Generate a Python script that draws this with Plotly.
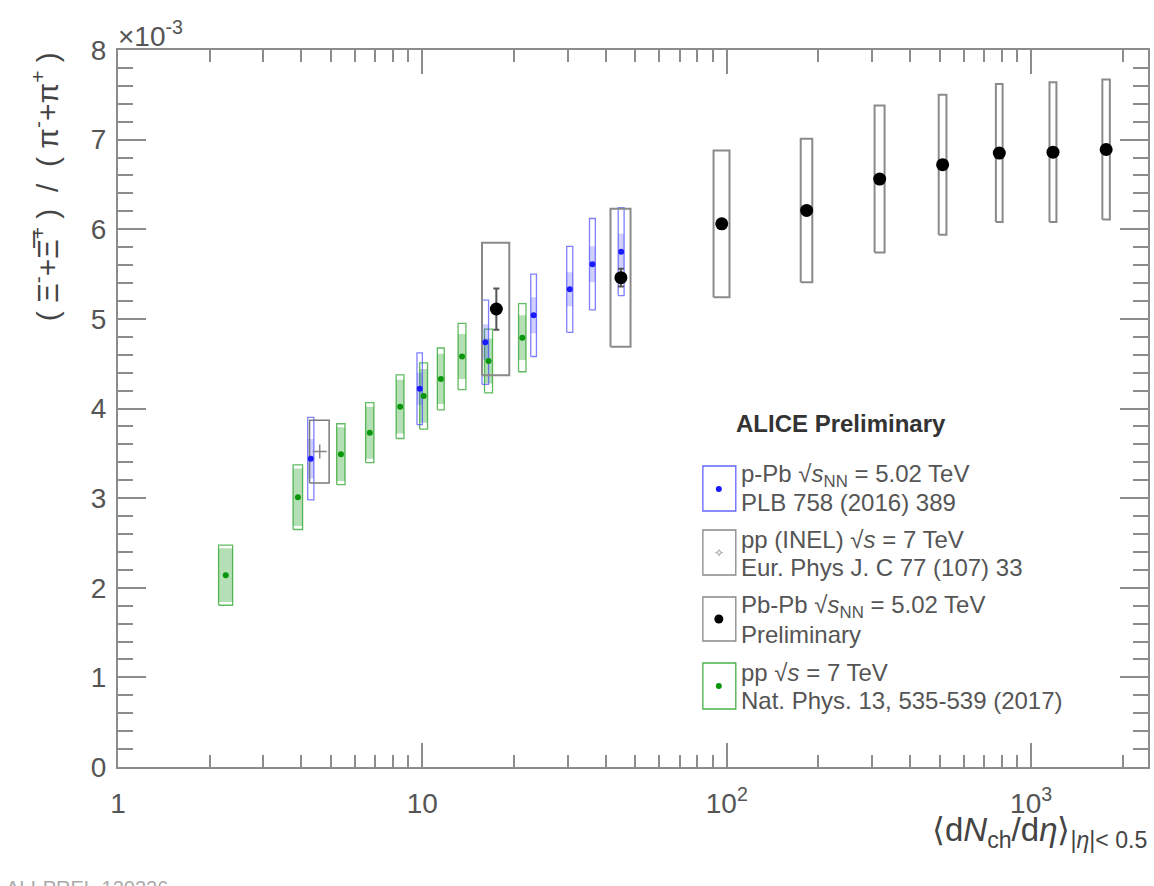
import plotly.graph_objects as go

# ---------------- data ----------------
# p-Pb, sqrt(s_NN) = 5.02 TeV  (PLB 758 (2016) 389)
ppb_dndeta = [4.3, 9.8, 16.1, 23.2, 30.5, 36.2, 45.0]
ppb_dndeta_err = [0.1, 0.2, 0.4, 0.5, 0.7, 0.8, 1.0]
ppb_ratio = [3.44, 4.22, 4.74, 5.04, 5.33, 5.61, 5.75]
ppb_sys = [0.46, 0.40, 0.47, 0.46, 0.48, 0.51, 0.49]
ppb_sys_unc = [0.22, 0.18, 0.20, 0.20, 0.19, 0.20, 0.20]

# pp (INEL), sqrt(s) = 7 TeV  (Eur. Phys. J. C 77 (107) 33)
ppinel_dndeta = [4.6]
ppinel_dndeta_err = [0.34]
ppinel_ratio = [3.52]
ppinel_sys = [0.35]

# Pb-Pb, sqrt(s_NN) = 5.02 TeV  (preliminary)
pbpb_dndeta = [17.5, 44.9, 96.3, 183, 318, 512, 786, 1180, 1764]
pbpb_dndeta_err = [1.8, 3.4, 5.8, 8, 12, 15, 20, 31, 50]
pbpb_ratio = [5.11, 5.46, 6.06, 6.21, 6.56, 6.72, 6.85, 6.86, 6.89]
pbpb_stat = [0.23, 0.10, 0.05, 0.04, 0.03, 0.03, 0.03, 0.03, 0.03]
pbpb_sys = [0.74, 0.77, 0.82, 0.80, 0.82, 0.78, 0.77, 0.78, 0.78]

# pp, sqrt(s) = 7 TeV multiplicity classes  (Nat. Phys. 13, 535-539 (2017))
pp_dndeta = [2.26, 3.90, 5.40, 6.72, 8.45, 10.1, 11.5, 13.5, 16.5, 21.3]
pp_dndeta_err = [0.12, 0.14, 0.17, 0.21, 0.25, 0.3, 0.3, 0.4, 0.5, 0.6]
pp_ratio = [2.14, 3.01, 3.49, 3.73, 4.02, 4.14, 4.33, 4.58, 4.53, 4.79]
pp_sys = [0.335, 0.36, 0.34, 0.335, 0.355, 0.37, 0.345, 0.37, 0.355, 0.38]
pp_sys_unc = [0.30, 0.32, 0.30, 0.29, 0.30, 0.30, 0.28, 0.25, 0.25, 0.25]

# ---------------- styling ----------------
FONT = "Liberation Sans, Arial, Helvetica, sans-serif"
AXIS_COLOR = "#8c8c8c"
TEXT_COLOR = "#555555"
BLUE = "#1a1aff"
GREEN = "#0a960a"

W, H = 1154, 886
ML, MR, MT, MB = 118, 4, 50, 119
PW, PH = W - ML - MR, H - MT - MB


def px(xp):
    """horizontal pixel -> paper coordinate"""
    return (xp - ML) / PW


def py(yp):
    """vertical pixel -> paper coordinate"""
    return (H - MB - yp) / PH


def boxes(xc, xerr, yc, yerr):
    """closed rectangles separated by gaps, one per point"""
    bx, by = [], []
    for x, dx, y, dy in zip(xc, xerr, yc, yerr):
        x0, x1, y0, y1 = x - dx, x + dx, y - dy, y + dy
        bx += [x0, x1, x1, x0, x0, None]
        by += [y0, y0, y1, y1, y0, None]
    return bx, by


fig = go.Figure()

# uncertainty boxes
gx, gy = boxes(pp_dndeta, pp_dndeta_err, pp_ratio, pp_sys_unc)
fig.add_trace(go.Scatter(x=gx, y=gy, mode="lines", fill="toself",
                         fillcolor="rgba(10,150,10,0.30)",
                         line=dict(width=0), hoverinfo="skip"))
gx, gy = boxes(pp_dndeta, pp_dndeta_err, pp_ratio, pp_sys)
fig.add_trace(go.Scatter(x=gx, y=gy, mode="lines",
                         line=dict(color="rgba(10,150,10,0.65)", width=1.3),
                         hoverinfo="skip"))

bx, by = boxes(ppb_dndeta, ppb_dndeta_err, ppb_ratio, ppb_sys_unc)
fig.add_trace(go.Scatter(x=bx, y=by, mode="lines", fill="toself",
                         fillcolor="rgba(40,40,255,0.22)",
                         line=dict(width=0), hoverinfo="skip"))
bx, by = boxes(ppb_dndeta, ppb_dndeta_err, ppb_ratio, ppb_sys)
fig.add_trace(go.Scatter(x=bx, y=by, mode="lines",
                         line=dict(color="rgba(60,60,255,0.65)", width=1.3),
                         hoverinfo="skip"))

ix, iy = boxes(ppinel_dndeta, ppinel_dndeta_err, ppinel_ratio, ppinel_sys)
fig.add_trace(go.Scatter(x=ix, y=iy, mode="lines",
                         line=dict(color="#7a7a7a", width=1.5),
                         hoverinfo="skip"))

kx, ky = boxes(pbpb_dndeta, pbpb_dndeta_err, pbpb_ratio, pbpb_sys)
fig.add_trace(go.Scatter(x=kx, y=ky, mode="lines",
                         line=dict(color="#8a8a8a", width=2),
                         hoverinfo="skip"))

# data points
fig.add_trace(go.Scatter(x=pp_dndeta, y=pp_ratio, mode="markers",
                         marker=dict(color=GREEN, size=6, symbol="circle")))
fig.add_trace(go.Scatter(x=ppb_dndeta, y=ppb_ratio, mode="markers",
                         marker=dict(color=BLUE, size=6, symbol="circle")))
fig.add_trace(go.Scatter(x=ppinel_dndeta, y=ppinel_ratio, mode="markers",
                         marker=dict(color="#888888", size=10,
                                     symbol="cross-thin-open",
                                     line=dict(color="#888888", width=1.5))))
fig.add_trace(go.Scatter(x=pbpb_dndeta, y=pbpb_ratio, mode="markers",
                         error_y=dict(type="data", array=pbpb_stat,
                                      color="#555555", thickness=2, width=3),
                         marker=dict(color="black", size=13, symbol="circle")))

# ---------------- axes ----------------
minor_x = [m * 10 ** e for e in range(0, 4) for m in range(2, 10)]
minor_x = [v for v in minor_x if v < 2400]

fig.update_xaxes(
    type="log", range=[0, 3.384],
    tickvals=[1, 10, 100, 1000],
    ticktext=["1", "10", "10<sup>2</sup>", "10<sup>3</sup>"],
    ticks="inside", ticklen=24, tickwidth=1.5, tickcolor=AXIS_COLOR,
    minor=dict(tickvals=minor_x, ticks="inside", ticklen=12, tickwidth=1.5,
               tickcolor=AXIS_COLOR, showgrid=False),
    showline=True, linecolor=AXIS_COLOR, linewidth=2, mirror="allticks",
    showgrid=False, zeroline=False,
    tickfont=dict(family=FONT, size=28, color=TEXT_COLOR),
    ticklabelstandoff=10,
)
fig.update_yaxes(
    range=[0, 8], tickmode="linear", tick0=0, dtick=1,
    ticks="inside", ticklen=28, tickwidth=1.5, tickcolor=AXIS_COLOR,
    minor=dict(dtick=0.2, ticks="inside", ticklen=15, tickwidth=1.5,
               tickcolor=AXIS_COLOR, showgrid=False),
    showline=True, linecolor=AXIS_COLOR, linewidth=2, mirror="allticks",
    showgrid=False, zeroline=False,
    tickfont=dict(family=FONT, size=28, color=TEXT_COLOR),
    ticklabelstandoff=4,
)

annotations = []
shapes = []

# exponent of the y axis
annotations.append(dict(xref="paper", yref="paper", x=px(116), y=py(54),
                        xanchor="left", yanchor="bottom", showarrow=False,
                        text="×10<sup>-3</sup>",
                        font=dict(family=FONT, size=28, color=TEXT_COLOR)))

# axis titles
annotations.append(dict(
    xref="paper", yref="paper", x=px(45), y=py(187),
    xanchor="center", yanchor="middle", showarrow=False, textangle=-90,
    text="( Ξ<sup>-</sup>+Ξ\u0305<sup>+</sup> )  /  ( π<sup>-</sup>+π<sup>+</sup> )",
    font=dict(family=FONT, size=30, color="#444444")))
annotations.append(dict(
    xref="paper", yref="paper", x=px(1151), y=py(809),
    xanchor="right", yanchor="top", showarrow=False,
    text="⟨d<i>N</i><sub>ch</sub>/d<i>η</i>⟩<sub>|<i>η</i>|< 0.5</sub>",
    font=dict(family=FONT, size=33, color="#444444")))

# bottom-left reference label
annotations.append(dict(xref="paper", yref="paper", x=px(4), y=py(875),
                        xanchor="left", yanchor="top", showarrow=False,
                        text="ALI-PREL-120226",
                        font=dict(family=FONT, size=20, color="#aaaaaa")))

# legend block
annotations.append(dict(xref="paper", yref="paper", x=px(735), y=py(423),
                        xanchor="left", yanchor="middle", showarrow=False,
                        text="<b>ALICE Preliminary</b>",
                        font=dict(family=FONT, size=24, color="#333333")))

legend_rows = [
    ("rgba(60,60,255,0.8)", 466, 511,
     "p-Pb √<i>s</i><sub>NN</sub> = 5.02 TeV", "PLB 758 (2016) 389"),
    ("#888888", 530, 575,
     "pp (INEL) √<i>s</i> = 7 TeV", "Eur. Phys J. C 77 (107) 33"),
    ("#888888", 597, 641,
     "Pb-Pb √<i>s</i><sub>NN</sub> = 5.02 TeV", "Preliminary"),
    ("rgba(10,150,10,0.75)", 663, 709,
     "pp √<i>s</i> = 7 TeV", "Nat. Phys. 13, 535-539 (2017)"),
]
for color, y0, y1, line1, line2 in legend_rows:
    shapes.append(dict(type="rect", xref="paper", yref="paper",
                       x0=px(704), x1=px(737), y0=py(y1), y1=py(y0),
                       line=dict(color=color, width=1.3)))
    annotations.append(dict(xref="paper", yref="paper", x=px(740),
                            y=py(y0 + 9), xanchor="left", yanchor="middle",
                            showarrow=False, text=line1,
                            font=dict(family=FONT, size=24, color=TEXT_COLOR)))
    annotations.append(dict(xref="paper", yref="paper", x=px(740),
                            y=py(y0 + 37), xanchor="left", yanchor="middle",
                            showarrow=False, text=line2,
                            font=dict(family=FONT, size=24, color=TEXT_COLOR)))

# legend symbols
def dot(xc, yc, r, color):
    return dict(type="circle", xref="paper", yref="paper",
                x0=px(xc - r), x1=px(xc + r), y0=py(yc + r), y1=py(yc - r),
                fillcolor=color, line=dict(width=0))

shapes.append(dot(720, 489, 3, BLUE))
shapes.append(dot(720, 619, 4.5, "black"))
shapes.append(dot(720, 686, 3, GREEN))
annotations.append(dict(xref="paper", yref="paper", x=px(720), y=py(553),
                        xanchor="center", yanchor="middle", showarrow=False,
                        text="✧", font=dict(family="DejaVu Sans", size=12,
                                            color="#888888")))

fig.update_layout(
    width=W, height=H,
    margin=dict(l=ML, r=MR, t=MT, b=MB),
    paper_bgcolor="white", plot_bgcolor="white",
    showlegend=False,
    annotations=annotations, shapes=shapes,
    font=dict(family=FONT),
)

fig.write_html("out.html")
